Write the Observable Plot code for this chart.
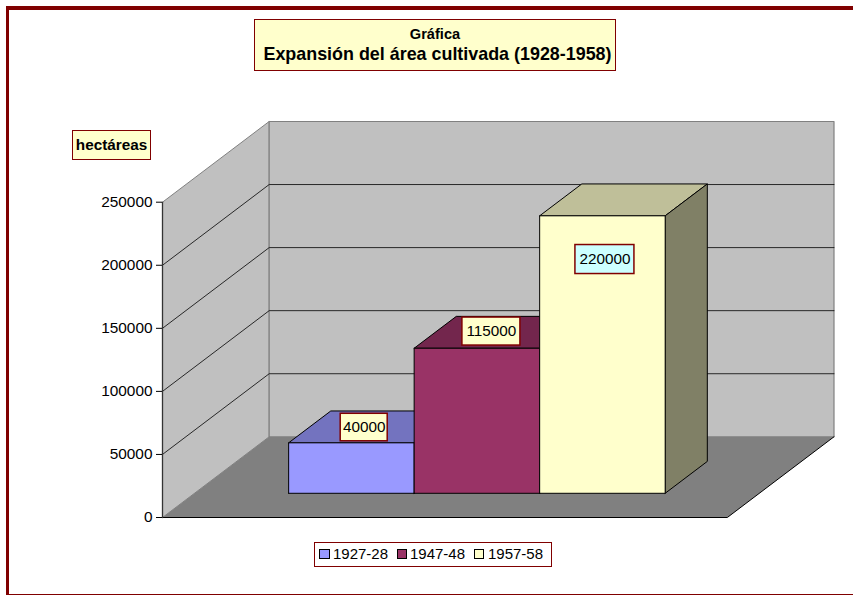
<!DOCTYPE html>
<html><head><meta charset="utf-8">
<script src="https://cdn.jsdelivr.net/npm/d3@7"></script>
<script src="https://cdn.jsdelivr.net/npm/@observablehq/plot@0.6"></script>
<style>
html,body{margin:0;padding:0;background:#fff;width:853px;height:595px;overflow:hidden}
body{position:relative;font-family:"Liberation Sans",Arial,sans-serif;color:#000}
#chart{position:absolute;left:0;top:0}
#frame{position:absolute;left:6px;top:6px;width:900px;height:584px;border:solid #800000;border-width:4px 0 4px 3px}
.box{position:absolute;box-sizing:border-box;background:#FFFFCC;border:1.5px solid #800000;text-align:center}
#title{left:254px;top:19px;width:362px;height:52px;font-weight:bold}
#title div:first-child{font-size:14.6px;line-height:16px;margin-top:5.5px}
#title div:last-child{font-size:17.9px;line-height:20px;white-space:nowrap;margin-top:2px;position:relative;left:2.5px}
#unit{left:72px;top:130px;width:79px;height:30px;font-weight:bold;font-size:15.3px;line-height:28px}
#legend{position:absolute;left:314px;top:542px;width:238px;height:25px;box-sizing:border-box;border:1.5px solid #800000;background:#fff;font-size:15px}
#legend i{position:absolute;top:5.5px;width:8.5px;height:8.5px;border:1px solid #000}
#legend span{position:absolute;top:2px;line-height:18px}
</style></head><body>
<div id="frame"></div>
<div id="chart"></div>
<div class="box" id="title"><div>Gráfica</div><div>Expansión del área cultivada (1928-1958)</div></div>
<div class="box" id="unit">hectáreas</div>
<div id="legend"></div>
<script>
const series = ["1927-28", "1947-48", "1957-58"];
const values = [40000, 115000, 220000];
const frontColors = ["#9999FF", "#993366", "#FFFFCC"];
const topColors = ["#7373BF", "#73264D", "#BFBF99"];
const sideColors = ["#4D4D80", "#4D1A33", "#808066"];
const yTicks = [0, 50000, 100000, 150000, 200000, 250000];
const labelFill = ["#FFFFCC", "#FFFFCC", "#CCFFFF"];

// Oblique projection: depth d in 0..1 shifts a point right and up, in data units.
const DX = 0.85, DY = 64000, NX = 4.5;
const P = (x, v, d = 0) => ({x: x + d * DX, y: v + d * DY});
const poly = (pts, fill, stroke, strokeWidth = 1) => Plot.line([...pts, pts[0]], {x: "x", y: "y", fill, stroke, strokeWidth});
const unitX = 1 / 125.5, unitY = 1 / 0.001261;
const D0 = 0.3, D1 = 0.695, GAP = 0.75;

const marks = [];
// walls
marks.push(poly([P(0, 0), P(0, 0, 1), P(0, 250000, 1), P(0, 250000)], "#C0C0C0", "#808080"));
marks.push(poly([P(0, 0, 1), P(NX, 0, 1), P(NX, 250000, 1), P(0, 250000, 1)], "#C0C0C0", "#808080", 1.2));
// grid
for (const t of yTicks.slice(1, -1)) {
  marks.push(Plot.line([P(0, t), P(0, t, 1), P(NX, t, 1)], {x: "x", y: "y", stroke: "#000", strokeWidth: 0.8}));
}
// floor
marks.push(poly([P(0, 0), P(0, 0, 1), P(NX, 0, 1), P(NX, 0)], "#808080", "none"));
marks.push(Plot.line([P(0, 0), P(NX, 0), P(NX, 0, 1)], {x: "x", y: "y", stroke: "#000", strokeWidth: 1}));
marks.push(Plot.line([P(0, 0), P(0, 250000)], {x: "x", y: "y", stroke: "#333", strokeWidth: 1.3}));
// bars
values.forEach((v, i) => {
  const a = GAP + i, b = a + 1;
  marks.push(poly([P(a, v, D0), P(a, v, D1), P(b, v, D1), P(b, v, D0)], topColors[i], "#000"));
  marks.push(poly([P(b, 0, D0), P(b, 0, D1), P(b, v, D1), P(b, v, D0)], sideColors[i], "#000"));
  marks.push(poly([P(a, 0, D0), P(b, 0, D0), P(b, v, D0), P(a, v, D0)], frontColors[i], "#000"));
});
// data labels: label-box centre = top-front-centre of the bar, shifted by a small offset in pixels
const labelShift = [[12.8, -15.3], [14.5, -16.7], [2.5, 43.7]];
const labelW = [47, 58, 59], labelH = [27.5, 28, 29];
const labels = values.map((v, i) => {
  const c = P(GAP + i + 0.5, v, D0);
  return {x: c.x + labelShift[i][0] * unitX, y: c.y - labelShift[i][1] * unitY, text: String(v), w: labelW[i], h: labelH[i], fill: labelFill[i]};
});
marks.push(Plot.rect(labels, {
  x1: d => d.x - d.w * unitX / 2, x2: d => d.x + d.w * unitX / 2,
  y1: d => d.y - d.h * unitY / 2, y2: d => d.y + d.h * unitY / 2,
  fill: d => d.fill, stroke: "#800000", strokeWidth: 1.5
}));
marks.push(Plot.text(labels, {x: "x", y: "y", text: "text", fontSize: 15.3, fill: "#000"}));
// axis
marks.push(Plot.axisY({anchor: "left", ticks: yTicks, tickFormat: d => String(d), tickSize: 6, tickPadding: 4, fontSize: 15.4, label: null, stroke: "#000", fill: "#000"}));

const plot = Plot.plot({
  width: 853, height: 595, marginLeft: 162, marginRight: 19.6, marginTop: 121, marginBottom: 78,
  x: {domain: [0, NX + DX], range: [162, 833.5], axis: null},
  y: {domain: [0, 250000], range: [517, 201.7], axis: null},
  style: {fontFamily: '"Liberation Sans", Arial, sans-serif', background: "transparent", overflow: "visible"},
  marks
});
document.getElementById("chart").append(plot);

// legend
const legend = document.getElementById("legend");
const swatchX = [4, 81.5, 158.5], textX = [18, 95, 173];
series.forEach((s, i) => {
  const sw = document.createElement("i");
  sw.style.left = swatchX[i] + "px"; sw.style.background = frontColors[i];
  const t = document.createElement("span");
  t.style.left = textX[i] + "px"; t.textContent = s;
  legend.append(sw, t);
});
</script>
</body></html>
